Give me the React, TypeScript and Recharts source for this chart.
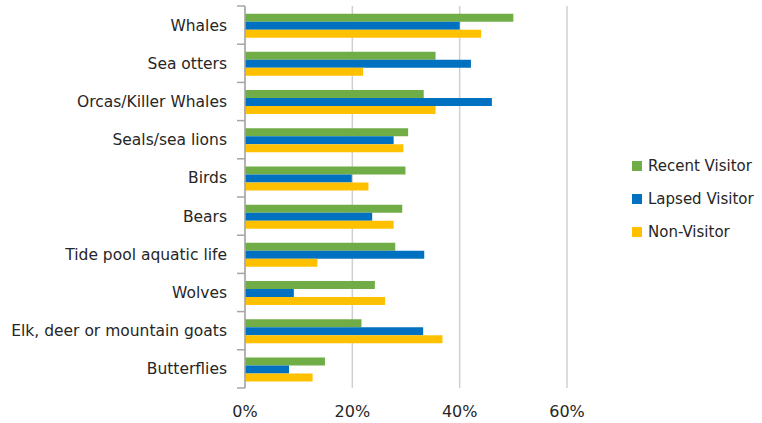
import { BarChart, Bar, XAxis, YAxis, CartesianGrid } from "recharts";

const categories = [
  "Whales",
  "Sea otters",
  "Orcas/Killer Whales",
  "Seals/sea lions",
  "Birds",
  "Bears",
  "Tide pool aquatic life",
  "Wolves",
  "Elk, deer or mountain goats",
  "Butterflies",
];
const recentVisitor = [50, 35.5, 33.3, 30.4, 29.9, 29.3, 28, 24.2, 21.7, 14.9];
const lapsedVisitor = [40, 42.1, 46, 27.7, 19.9, 23.7, 33.4, 9.1, 33.2, 8.2];
const nonVisitor = [44, 22, 35.5, 29.5, 23, 27.7, 13.5, 26.1, 36.8, 12.6];
const xTicks = [0, 20, 40, 60];

const series = [
  { key: "recent", name: "Recent Visitor", color: "#70AD47" },
  { key: "lapsed", name: "Lapsed Visitor", color: "#0070C0" },
  { key: "non", name: "Non-Visitor", color: "#FFC000" },
];

const data = categories.map((name, i) => ({
  name,
  recent: recentVisitor[i],
  lapsed: lapsedVisitor[i],
  non: nonVisitor[i],
}));

const FONT = "'DejaVu Sans', sans-serif";
const W = 762;
const H = 423;
const TOP = 6;
const BOTTOM_AXIS = 30;
const BOTTOM = 5;
const band = (H - TOP - BOTTOM_AXIS - BOTTOM) / categories.length;

function CategoryTick(props: any) {
  const { x, y, payload, index } = props;
  const axisX = x + 18;
  return (
    <g>
      <line x1={axisX - 8} x2={axisX} y1={y - band / 2} y2={y - band / 2} stroke="#a6a6a6" strokeWidth={1.5} />
      {index === categories.length - 1 && (
        <line x1={axisX - 8} x2={axisX} y1={y + band / 2} y2={y + band / 2} stroke="#a6a6a6" strokeWidth={1.5} />
      )}
      <text x={x} y={y} dy="0.35em" textAnchor="end" fill="#262626" fontSize={15.5} fontFamily={FONT}>
        {payload.value}
      </text>
    </g>
  );
}

function LegendBox() {
  return (
    <div
      style={{
        position: "absolute",
        left: 632,
        top: 149,
        fontFamily: FONT,
        fontSize: 15,
        color: "#262626",
      }}
    >
      {series.map((s) => (
        <div key={s.key} style={{ display: "flex", alignItems: "center", height: 33, whiteSpace: "nowrap" }}>
          <span style={{ width: 10, height: 10, background: s.color, marginRight: 6 }} />
          {s.name}
        </div>
      ))}
    </div>
  );
}

export default function App() {
  return (
    <div style={{ position: "absolute", left: 0, top: 0, width: W, height: H, background: "#fff" }}>
      <BarChart
        width={W}
        height={H}
        data={data}
        layout="vertical"
        margin={{ top: TOP, right: 195, bottom: BOTTOM, left: 0 }}
        barCategoryGap="20%"
        barGap={0}
      >
        <CartesianGrid horizontal={false} vertical={true} stroke="#d0d0d0" strokeWidth={1.5} />
        <XAxis
          type="number"
          domain={[0, 60]}
          ticks={xTicks}
          tickFormatter={(v) => `${v}%`}
          axisLine={false}
          tickLine={false}
          tickSize={0}
          tickMargin={18}
          height={BOTTOM_AXIS}
          tick={{ fill: "#262626", fontSize: 16, fontFamily: FONT }}
        />
        <YAxis
          type="category"
          dataKey="name"
          width={245}
          axisLine={{ stroke: "#a6a6a6", strokeWidth: 1.5 }}
          tickLine={false}
          tickSize={8}
          tickMargin={10}
          interval={0}
          tick={<CategoryTick />}
        />
        {series.map((s) => (
          <Bar key={s.key} dataKey={s.key} name={s.name} fill={s.color} isAnimationActive={false} />
        ))}
      </BarChart>
      <LegendBox />
    </div>
  );
}
